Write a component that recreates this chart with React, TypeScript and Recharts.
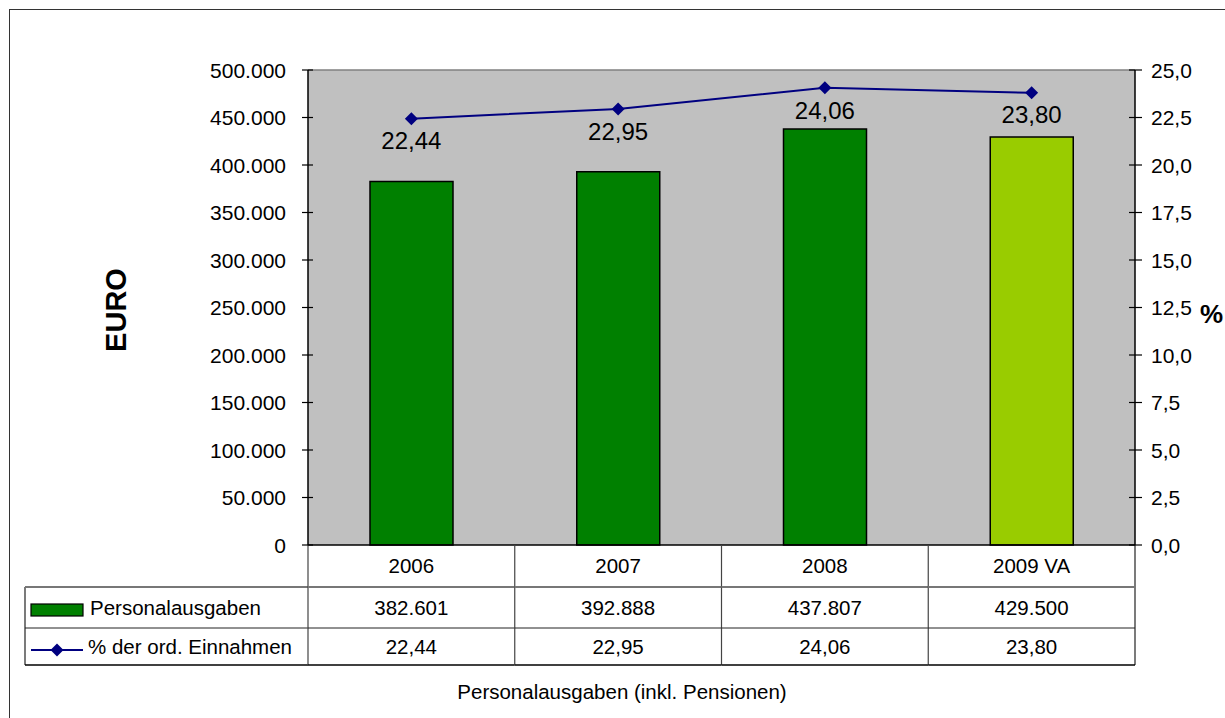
import React from "react";
import {
  ComposedChart,
  Bar,
  Line,
  XAxis,
  YAxis,
  CartesianGrid,
  Cell,
  LabelList,
  ReferenceLine,
} from "recharts";

const years = ["2006", "2007", "2008", "2009 VA"];
const personalausgaben = [382601, 392888, 437807, 429500];
const anteilEinnahmen = [22.44, 22.95, 24.06, 23.8];
const barColors = ["#008000", "#008000", "#008000", "#99CC00"];
const euroTicks = [0, 50000, 100000, 150000, 200000, 250000, 300000, 350000, 400000, 450000, 500000];
const percentTicks = [0, 2.5, 5, 7.5, 10, 12.5, 15, 17.5, 20, 22.5, 25];

const seriesNames = ["Personalausgaben", "% der ord. Einnahmen"];
const footerTitle = "Personalausgaben (inkl. Pensionen)";

const data = years.map((year, i) => ({
  year,
  eur: personalausgaben[i],
  pct: anteilEinnahmen[i],
}));

// layout
const W = 1225;
const H = 718;
const PLOT_LEFT = 308;
const PLOT_RIGHT = 1135;
const PLOT_TOP = 70;
const PLOT_BOTTOM = 545;
const BAND = (PLOT_RIGHT - PLOT_LEFT) / years.length;
const ROW1 = 587;
const ROW2 = 628;
const ROW3 = 665;
const LEGEND_LEFT = 25;

const FONT = "'Liberation Sans', Arial, sans-serif";
const TXT = 20.5;

const fmtThousands = (v: number) =>
  String(Math.round(v)).replace(/\B(?=(\d{3})+(?!\d))/g, ".");
const fmtComma = (v: number, d: number) => v.toFixed(d).replace(".", ",");

const EuroTick = ({ x, y, payload }: any) => (
  <g>
    <line x1={x - 6} x2={x + 5} y1={y} y2={y} stroke="#000" strokeWidth={1.2} />
    <text x={x - 22} y={y} dy="0.36em" textAnchor="end" fontFamily={FONT} fontSize={21} fill="#000">
      {fmtThousands(payload.value)}
    </text>
  </g>
);

const PercentTick = ({ x, y, payload }: any) => (
  <g>
    <line x1={x - 6} x2={x + 7} y1={y} y2={y} stroke="#000" strokeWidth={1.2} />
    <text x={x + 16} y={y} dy="0.36em" textAnchor="start" fontFamily={FONT} fontSize={21} fill="#000">
      {fmtComma(payload.value, 1)}
    </text>
  </g>
);

// legend column on the left side of the data table
const TableLegend = () => (
  <g>
    <line x1={LEGEND_LEFT} x2={LEGEND_LEFT} y1={ROW1} y2={ROW3} stroke="#222" strokeWidth={1.2} />
    <line x1={LEGEND_LEFT} x2={PLOT_LEFT} y1={ROW1} y2={ROW1} stroke="#777" strokeWidth={2} />
    <line x1={LEGEND_LEFT} x2={PLOT_LEFT} y1={ROW2} y2={ROW2} stroke="#222" strokeWidth={1} />
    <line x1={LEGEND_LEFT} x2={PLOT_LEFT} y1={ROW3} y2={ROW3} stroke="#000" strokeWidth={1.5} />
    <rect x={31} y={604} width={52} height={12} fill="#008000" stroke="#000" strokeWidth={1.2} />
    <text x={90} y={(ROW1 + ROW2) / 2} dy="0.36em" fontFamily={FONT} fontSize={TXT} fill="#000">
      {seriesNames[0]}
    </text>
    <line x1={31} x2={83} y1={650} y2={650} stroke="#000080" strokeWidth={2} />
    <polygon points="57,643.5 63.5,650 57,656.5 50.5,650" fill="#000080" />
    <text x={88} y={(ROW2 + ROW3) / 2} dy="0.36em" fontFamily={FONT} fontSize={TXT} fill="#000">
      {seriesNames[1]}
    </text>
  </g>
);

// each category tick draws its whole column of the data table
const TableTick = ({ x, index }: any) => {
  const left = x - BAND / 2;
  const right = x + BAND / 2;
  const last = index === years.length - 1;
  return (
    <g>
      {index === 0 && <TableLegend />}
      <line x1={left} x2={left} y1={PLOT_BOTTOM} y2={ROW3} stroke="#444" strokeWidth={1.2} />
      {last && <line x1={right} x2={right} y1={PLOT_BOTTOM} y2={ROW3} stroke="#222" strokeWidth={1.2} />}
      <line x1={left} x2={right} y1={ROW1} y2={ROW1} stroke="#777" strokeWidth={2} />
      <line x1={left} x2={right} y1={ROW2} y2={ROW2} stroke="#222" strokeWidth={1} />
      <line x1={left} x2={right} y1={ROW3} y2={ROW3} stroke="#000" strokeWidth={1.5} />
      <text x={x} y={(PLOT_BOTTOM + ROW1) / 2} dy="0.36em" textAnchor="middle" fontFamily={FONT} fontSize={TXT} fill="#000">
        {years[index]}
      </text>
      <text x={x} y={(ROW1 + ROW2) / 2} dy="0.36em" textAnchor="middle" fontFamily={FONT} fontSize={TXT} fill="#000">
        {fmtThousands(personalausgaben[index])}
      </text>
      <text x={x} y={(ROW2 + ROW3) / 2} dy="0.36em" textAnchor="middle" fontFamily={FONT} fontSize={TXT} fill="#000">
        {fmtComma(anteilEinnahmen[index], 2)}
      </text>
    </g>
  );
};

const Diamond = ({ cx, cy }: any) => (
  <polygon
    points={`${cx},${cy - 6.5} ${cx + 6.5},${cy} ${cx},${cy + 6.5} ${cx - 6.5},${cy}`}
    fill="#000080"
  />
);

const PointLabel = ({ x, y, value }: any) => (
  <text x={x} y={y + 22} dy="0.36em" textAnchor="middle" fontFamily={FONT} fontSize={24} fill="#000">
    {fmtComma(value, 2)}
  </text>
);

const EuroLabel = ({ viewBox }: any) => (
  <text
    x={0}
    y={0}
    transform={`translate(${viewBox.x + 116}, ${viewBox.y + 240}) rotate(-90)`}
    textAnchor="middle"
    dy="0.36em"
    fontFamily={FONT}
    fontSize={29}
    fontWeight="bold"
    fill="#000"
  >
    EURO
  </text>
);

const PercentLabel = ({ viewBox }: any) => (
  <text
    x={viewBox.x + 65}
    y={viewBox.y + 244}
    dy="0.36em"
    fontFamily={FONT}
    fontSize={26}
    fontWeight="bold"
    fill="#000"
  >
    %
  </text>
);

export default function App() {
  return (
    <div
      style={{
        position: "absolute",
        left: 0,
        top: 0,
        width: W,
        height: H,
        overflow: "hidden",
        background: "#fff",
      }}
    >
      <div
        style={{
          position: "absolute",
          left: 9,
          top: 9,
          width: W + 40,
          height: H + 40,
          border: "1.5px solid #333",
        }}
      />
      <div style={{ position: "absolute", left: 0, top: 0 }}>
        <ComposedChart width={W} height={H} data={data} margin={{ top: PLOT_TOP, right: 0, bottom: 0, left: 0 }}>
          <CartesianGrid yAxisId="eur" fill="#C0C0C0" horizontal={false} vertical={false} />
          <XAxis
            dataKey="year"
            height={H - PLOT_BOTTOM}
            tickSize={0}
            tickMargin={0}
            tickLine={false}
            interval={0}
            axisLine={{ stroke: "#000", strokeWidth: 1.5 }}
            tick={<TableTick />}
          />
          <YAxis
            yAxisId="eur"
            width={PLOT_LEFT}
            domain={[0, 500000]}
            ticks={euroTicks}
            interval={0}
            tickSize={0}
            tickMargin={0}
            tickLine={false}
            axisLine={{ stroke: "#000", strokeWidth: 1.5 }}
            tick={<EuroTick />}
            label={<EuroLabel />}
          />
          <YAxis
            yAxisId="pct"
            orientation="right"
            width={W - PLOT_RIGHT}
            domain={[0, 25]}
            ticks={percentTicks}
            interval={0}
            tickSize={0}
            tickMargin={0}
            tickLine={false}
            axisLine={{ stroke: "#000", strokeWidth: 1.5 }}
            tick={<PercentTick />}
            label={<PercentLabel />}
          />
          <ReferenceLine yAxisId="eur" y={500000} stroke="#808080" strokeWidth={1.5} />
          <Bar yAxisId="eur" dataKey="eur" barSize={83} stroke="#000" strokeWidth={1.5} isAnimationActive={false}>
            {data.map((d, i) => (
              <Cell key={d.year} fill={barColors[i]} />
            ))}
          </Bar>
          <Line
            yAxisId="pct"
            dataKey="pct"
            type="linear"
            stroke="#000080"
            strokeWidth={2}
            dot={<Diamond />}
            activeDot={false}
            isAnimationActive={false}
          >
            <LabelList dataKey="pct" content={<PointLabel />} />
          </Line>
        </ComposedChart>
      </div>
      <div
        style={{
          position: "absolute",
          left: 0,
          width: 1244,
          top: 680,
          textAlign: "center",
          fontFamily: FONT,
          fontSize: TXT,
          color: "#000",
        }}
      >
        {footerTitle}
      </div>
    </div>
  );
}
